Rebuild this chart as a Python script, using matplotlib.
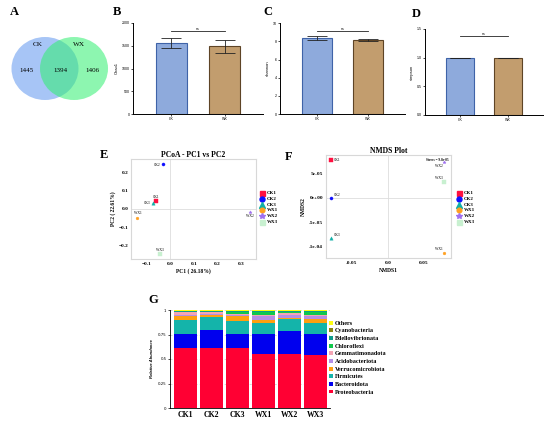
import matplotlib.pyplot as plt
from matplotlib.patches import Ellipse
import numpy as np

W, H = 550, 424
SERIF = ["Liberation Serif", "DejaVu Serif"]
SANS = ["Liberation Sans", "DejaVu Sans"]

# Venn (A)
venn_groups = ["CK", "WX"]
venn_counts = [1445, 1394, 1406]

# alpha diversity (B-D)
alpha_groups = ["CK", "WX"]
chao1_mean = [1565, 1485]
chao1_err = [110, 150]
shannon_mean = [8.38, 8.15]
shannon_err = [0.22, 0.15]
simpson_mean = [0.993, 0.991]
simpson_err = [0.003, 0.003]

# ordination (E, F)
samples = ["CK1", "CK2", "CK3", "WX1", "WX2", "WX3"]
pcoa_pc1 = [-0.059, -0.028, -0.073, -0.138, 0.339, -0.042]
pcoa_pc2 = [0.042, 0.246, 0.031, -0.047, -0.015, -0.248]
nmds1 = [-0.078, -0.078, -0.078, 0.078, 0.078, 0.078]
nmds2 = [7.8e-5, 0.0, -8.2e-5, -1.14e-4, 7.5e-5, 3.3e-5]

# relative abundance (G), bottom to top
phyla = ["Proteobacteria", "Bacteroidota", "Firmicutes", "Verrucomicrobiota",
         "Acidobacteriota", "Gemmatimonadota", "Chloroflexi",
         "Bdellovibrionata", "Cyanobacteria", "Others"]
proteobacteria = [0.61, 0.617, 0.61, 0.555, 0.552, 0.545]
bacteroidota = [0.15, 0.183, 0.15, 0.205, 0.238, 0.215]
firmicutes = [0.14, 0.13, 0.128, 0.103, 0.115, 0.112]
verrucomicrobiota = [0.035, 0.015, 0.05, 0.037, 0.015, 0.033]
acidobacteriota = [0.015, 0.012, 0.012, 0.035, 0.03, 0.035]
gemmatimonadota = [0.025, 0.018, 0.01, 0.015, 0.015, 0.01]
chloroflexi = [0.006, 0.006, 0.02, 0.025, 0.015, 0.025]
bdellovibrionata = [0.008, 0.008, 0.01, 0.012, 0.008, 0.013]
cyanobacteria = [0.004, 0.005, 0.004, 0.005, 0.004, 0.004]
others = [0.007, 0.006, 0.006, 0.008, 0.008, 0.008]

PHYLA_COLORS = ["#ff0033", "#0000ee", "#14b4aa", "#ffa010", "#b48ee6",
                "#f4a4b4", "#10c84c", "#0e9c8c", "#8a8410", "#ffff10"]
SAMPLE_STYLE = {
    "CK1": dict(marker="s", color="#ff1040", ms=2.2),
    "CK2": dict(marker="o", color="#1010ff", ms=2.2),
    "CK3": dict(marker="^", color="#10b0a8", ms=2.4),
    "WX1": dict(marker="o", color="#ffa020", ms=2.0),
    "WX2": dict(marker="*", color="#a070f0", ms=2.4),
    "WX3": dict(marker="s", color="#c8f0d0", ms=2.2),
}


def px_axes(fig, x0, y0, x1, y1):
    return fig.add_axes([x0 / W, 1 - y1 / H, (x1 - x0) / W, (y1 - y0) / H])


def panel_letter(fig, x, y, s):
    fig.text(x / W, 1 - y / H, s, family=SERIF, weight="bold", fontsize=9,
             ha="left", va="center")


def bar_panel(ax, means, errs, ylim, ticks, ylabel, ns_y):
    x = np.arange(len(alpha_groups))
    ax.bar(x, means, width=0.58, color=["#8eaadc", "#c29d6e"],
           edgecolor=["#3f63a8", "#5e4426"], linewidth=0.8)
    ax.errorbar(x, means, yerr=errs, fmt="none", ecolor="#222",
                elinewidth=0.6, capsize=7.5, capthick=0.6)
    ax.plot([0, 1], [ns_y, ns_y], color="#222", lw=0.6)
    ax.text(0.5, ns_y, "ns", ha="center", va="bottom", fontsize=2.5,
            family=SANS)
    ax.set_xlim(-0.72, 1.72)
    ax.set_ylim(*ylim)
    ax.set_yticks(ticks)
    ax.set_xticks(x)
    ax.set_xticklabels(alpha_groups)
    ax.tick_params(labelsize=2.6, length=1.5, width=0.5, pad=1)
    for lab in ax.get_xticklabels() + ax.get_yticklabels():
        lab.set_family(SANS)
    ax.set_ylabel(ylabel, fontsize=3, family=SANS, labelpad=2)
    for s in ["top", "right"]:
        ax.spines[s].set_visible(False)
    for s in ["left", "bottom"]:
        ax.spines[s].set_linewidth(0.7)


def ord_panel(ax, xs, ys, title, xlabel, ylabel, offsets):
    ax.axhline(0, color="#dddddd", lw=0.6, zorder=0)
    ax.axvline(0, color="#dddddd", lw=0.6, zorder=0)
    for name, x, y in zip(samples, xs, ys):
        st = SAMPLE_STYLE[name]
        ax.plot(x, y, st["marker"], color=st["color"], ms=st["ms"],
                mec=st["color"], mew=0.3)
        dx, dy, ha = offsets[name]
        ax.annotate(name, (x, y), xytext=(dx, dy), textcoords="offset points",
                    fontsize=2.6, family=SERIF, ha=ha, va="center")
    ax.set_title(title, fontsize=5.5, family=SERIF, weight="bold", pad=1.5)
    ax.set_xlabel(xlabel, fontsize=4, family=SERIF, weight="bold", labelpad=2)
    ax.set_ylabel(ylabel, fontsize=4, family=SERIF, weight="bold", labelpad=2)
    ax.tick_params(labelsize=3.8, length=0, pad=2)
    for s in ax.spines.values():
        s.set_color("#d8d8d8")
        s.set_linewidth(0.8)


def bold_serif_ticks(ax):
    for lab in ax.get_xticklabels() + ax.get_yticklabels():
        lab.set_family(SERIF)
        lab.set_weight("bold")


def ord_legend(fig, x, y0, dy):
    for i, name in enumerate(samples):
        st = SAMPLE_STYLE[name]
        yy = 1 - (y0 + i * dy) / H
        fig.lines.append(plt.Line2D([x / W], [yy], marker=st["marker"],
                                    color=st["color"], ms=st["ms"] + 1.4,
                                    transform=fig.transFigure))
        fig.text((x + 5) / W, yy, name, fontsize=3.6, family=SERIF,
                 weight="bold", va="center")


fig = plt.figure(figsize=(W / 100, H / 100), dpi=100)

# A: Venn
ax_a = px_axes(fig, 0, 25, 120, 115)
ax_a.set_xlim(0, 120)
ax_a.set_ylim(115, 25)
ax_a.axis("off")
ax_a.add_patch(Ellipse((45, 68.5), 67, 63, color="#6d9ff0", alpha=0.6, lw=0))
ax_a.add_patch(Ellipse((74, 68.5), 68, 63, color="#30f070", alpha=0.55, lw=0))
ax_a.text(38, 45, venn_groups[0], fontsize=5.2, family=SERIF, ha="center",
          va="center")
ax_a.text(79, 45, venn_groups[1], fontsize=5.2, family=SERIF, ha="center",
          va="center")
for cx, n in zip([26, 60, 92], venn_counts):
    ax_a.text(cx, 70, str(n), fontsize=5, family=SERIF, ha="center",
              va="center")
panel_letter(fig, 10, 12, "A")

# B-D
ax_b = px_axes(fig, 133, 23, 263, 114)
bar_panel(ax_b, chao1_mean, chao1_err, (0, 2000), [0, 500, 1000, 1500, 2000],
          "Chao1", 1830)
panel_letter(fig, 113, 12, "B")

ax_c = px_axes(fig, 280, 23.3, 405, 114)
bar_panel(ax_c, shannon_mean, shannon_err, (0, 10), [0, 2, 4, 6, 8, 10],
          "shannon", 9.1)
panel_letter(fig, 263, 12, "C")

ax_d = px_axes(fig, 425, 29, 543, 115)
bar_panel(ax_d, simpson_mean, simpson_err, (0, 1.5), [0.0, 0.5, 1.0, 1.5],
          "simpson", 1.38)
ax_d.set_yticklabels(["0.0", "0.5", "1.0", "1.5"], family=SANS)
panel_letter(fig, 412, 14, "D")

# E: PCoA
ax_e = px_axes(fig, 131, 159, 256, 259)
ord_panel(ax_e, pcoa_pc1, pcoa_pc2, "PCoA - PC1 vs PC2", "PC1 ( 26.18%)",
          "PC2 ( 22.61%)",
          {"CK1": (0, 3, "center"), "CK2": (-2, -1, "right"),
           "CK3": (-2, 0, "right"), "WX1": (0, 3, "center"),
           "WX2": (0, -3, "center"), "WX3": (0, 3, "center")})
ax_e.set_xlim(-0.165, 0.363)
ax_e.set_ylim(-0.273, 0.273)
ax_e.set_xticks([-0.1, 0.0, 0.1, 0.2, 0.3])
ax_e.set_yticks([-0.2, -0.1, 0.0, 0.1, 0.2])
bold_serif_ticks(ax_e)
ord_legend(fig, 262, 193, 5.8)
panel_letter(fig, 100, 155, "E")

# F: NMDS
ax_f = px_axes(fig, 326, 155, 450.7, 258)
ord_panel(ax_f, nmds1, nmds2, "NMDS Plot", "NMDS1", "NMDS2",
          {"CK1": (2, 0, "left"), "CK2": (2, 2, "left"),
           "CK3": (2, 2, "left"), "WX1": (-1, 3, "right"),
           "WX2": (-1, -3, "right"), "WX3": (-1, 3, "right")})
ax_f.set_xlim(-0.085, 0.0868)
ax_f.set_ylim(-1.235e-4, 8.85e-5)
ax_f.set_xticks([-0.05, 0.0, 0.05])
ax_f.set_xticklabels(["-0.05", "0.0", "0.05"])
ax_f.set_yticks([-1e-4, -5e-5, 0, 5e-5])
ax_f.set_yticklabels(["-1e-04", "-5e-05", "0e+00", "5e-05"])
bold_serif_ticks(ax_f)
ax_f.text(0.98, 0.97, "Stress = 9.8e-05", transform=ax_f.transAxes,
          fontsize=2.4, family=SERIF, weight="bold", ha="right", va="top")
ord_legend(fig, 459, 193, 5.8)
panel_letter(fig, 285, 157, "F")

# G: stacked bars
ax_g = px_axes(fig, 170, 310, 330, 408)
abund = [proteobacteria, bacteroidota, firmicutes, verrucomicrobiota,
         acidobacteriota, gemmatimonadota, chloroflexi, bdellovibrionata,
         cyanobacteria, others]
xg = np.arange(len(samples))
bottom = np.zeros(len(samples))
handles = []
for name, vals, col in zip(phyla, abund, PHYLA_COLORS):
    h = ax_g.bar(xg, vals, bottom=bottom, width=0.88, color=col, label=name,
                 lw=0)
    handles.append(h)
    bottom += np.array(vals)
ax_g.set_xlim(-0.58, 5.56)
ax_g.set_ylim(0, 1)
ax_g.set_yticks([0, 0.25, 0.5, 0.75, 1])
ax_g.set_yticklabels(["0", "0.25", "0.5", "0.75", "1"])
ax_g.yaxis.grid(True, ls=(0, (3, 3)), color="#c8c8c8", lw=0.5)
ax_g.set_axisbelow(True)
ax_g.set_xticks(xg)
ax_g.set_xticklabels(samples, family=SERIF, weight="bold", fontsize=5.6)
ax_g.tick_params(axis="y", labelsize=2.8, length=1.5, width=0.5, pad=1)
ax_g.tick_params(axis="x", length=0, pad=2)
ax_g.set_ylabel("Relative Abundance", fontsize=3, family=SANS,
                weight="bold", style="italic", labelpad=3)
for s in ["top", "right"]:
    ax_g.spines[s].set_visible(False)
for s in ["left", "bottom"]:
    ax_g.spines[s].set_linewidth(0.6)
ax_g.legend(handles[::-1], phyla[::-1], loc="upper left",
            bbox_to_anchor=(0.985, 0.91), frameon=False,
            prop=dict(family=SERIF, weight="bold", size=4.4),
            handlelength=0.6, handleheight=0.6, handletextpad=0.3,
            labelspacing=0.42, borderpad=0, borderaxespad=0.3)
panel_letter(fig, 148, 300, "G")

fig.savefig("out.png", dpi=100)
